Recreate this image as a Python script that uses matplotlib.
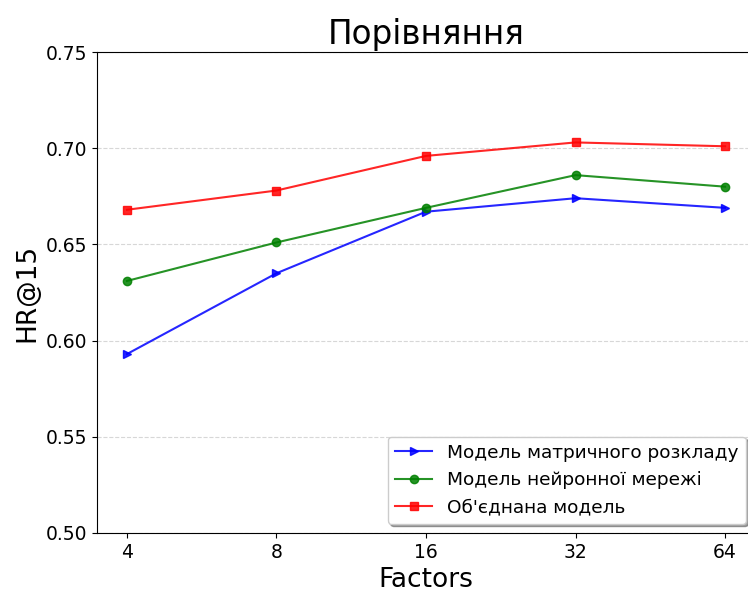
import numpy as np
import matplotlib.pyplot as plt

# Data
factors = ['4', '8', '16', '32', '64']
mf_hr = [0.593, 0.635, 0.667, 0.674, 0.669]
nn_hr = [0.631, 0.651, 0.669, 0.686, 0.680]
comb_hr = [0.668, 0.678, 0.696, 0.703, 0.701]

fig = plt.figure(figsize=(7.48, 5.94), dpi=100)
ax = fig.add_axes([97 / 748, 61 / 594, 658 / 748, 481 / 594])

x = np.arange(len(factors))
ax.plot(x, mf_hr, 'b>-', alpha=0.85, label='Модель матричного розкладу')
ax.plot(x, nn_hr, 'go-', alpha=0.85, label='Модель нейронної мережі')
ax.plot(x, comb_hr, 'rs-', alpha=0.85, label='Об\'єднана модель')

ax.set_xticks(x)
ax.set_xticklabels(factors, fontsize=13.5)
ax.set_ylim(0.50, 0.75)
ax.set_yticks([0.50, 0.55, 0.60, 0.65, 0.70, 0.75])
ax.tick_params(axis='y', labelsize=13.5)
ax.yaxis.grid(True, linestyle='--', color='lightgray', alpha=0.9)
ax.spines['right'].set_visible(False)  # cropped off in the original
ax.set_xlabel('Factors', fontsize=19)
ax.set_ylabel('HR@15', fontsize=19)
ax.set_title('Порівняння', fontsize=23.5)
ax.legend(loc='lower right', shadow=True, fontsize=13.3)

fig.savefig('out.png', dpi=100)
